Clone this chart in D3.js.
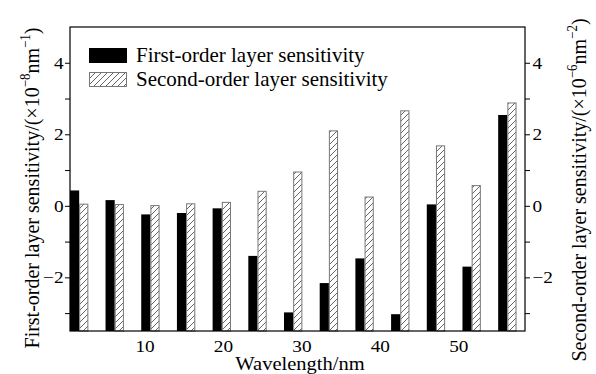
<!DOCTYPE html>
<html><head><meta charset="utf-8">
<script src="https://cdn.jsdelivr.net/npm/d3@7"></script>
<style>
body{margin:0;background:#fff}
svg{display:block}
text{font-family:"Liberation Serif","Times New Roman",serif;fill:#000}
</style>
</head><body>
<svg id="c" width="596" height="374"></svg>
<script>
// ---- data ----
const positions = [1.67, 6.2, 10.75, 15.3, 19.85, 24.4, 28.95, 33.5, 38.05, 42.6, 47.15, 51.7, 56.25];
const firstOrder = [0.43, 0.16, -0.24, -0.20, -0.07, -1.40, -2.98, -2.16, -1.47, -3.03, 0.04, -1.70, 2.54];
const secondOrder = [0.06, 0.05, 0.02, 0.07, 0.11, 0.42, 0.96, 2.11, 0.26, 2.67, 1.69, 0.58, 2.89];
const xTicks = [10, 20, 30, 40, 50];
const yMajor = [-2, 0, 2, 4];
const yMinor = [-3, -1, 1, 3];
const seriesNames = ["First-order layer sensitivity", "Second-order layer sensitivity"];

// ---- layout ----
const L = 70, R = 525, T = 27, B = 331;
const svg = d3.select("#c");
const x = d3.scaleLinear().domain([0.5, 58.5]).range([L, R]);
const y = d3.scaleLinear().domain([-3.5, 5]).range([B, T]);
const barW = 1.17;

const defs = svg.append("defs");
const pat = defs.append("pattern").attr("id", "hatch").attr("patternUnits", "userSpaceOnUse")
  .attr("width", 6).attr("height", 6);
pat.append("rect").attr("width", 6).attr("height", 6).attr("fill", "#fff");
pat.append("path").attr("d", "M-1,1 l2,-2 M0,6 l6,-6 M5,7 l2,-2")
  .attr("stroke", "#555").attr("stroke-width", 0.9);

// bars
const g = svg.append("g");
g.selectAll("rect.first").data(firstOrder).join("rect").attr("class", "first")
  .attr("x", (d, i) => x(positions[i] - barW))
  .attr("width", (d, i) => x(positions[i]) - x(positions[i] - barW))
  .attr("y", d => y(d)).attr("height", d => y(-3.5) - y(d))
  .attr("fill", "#000");
g.selectAll("rect.second").data(secondOrder).join("rect").attr("class", "second")
  .attr("x", (d, i) => x(positions[i]) + 0.5)
  .attr("width", (d, i) => x(positions[i] + barW) - x(positions[i]) - 1)
  .attr("y", d => y(d) + 0.5).attr("height", d => y(-3.5) - y(d) - 0.5)
  .attr("fill", "url(#hatch)").attr("stroke", "#777").attr("stroke-width", 1);

// frame
svg.append("rect").attr("x", L).attr("y", T).attr("width", R - L).attr("height", B - T)
  .attr("fill", "none").attr("stroke", "#000").attr("stroke-width", 1.2);

// axes
const fmt = d => d < 0 ? "\u2212" + Math.abs(d) : d;
const TS = 1.1; // horizontal stretch of tick labels
const leftAx = svg.append("g").attr("transform", `translate(${L},0)`)
  .call(d3.axisLeft(y).tickValues(yMajor).tickSize(5).tickPadding(1.5).tickFormat(fmt));
leftAx.append("g").call(d3.axisLeft(y).tickValues(yMinor).tickSize(5).tickFormat(""));
const rightAx = svg.append("g").attr("transform", `translate(${R},0)`)
  .call(d3.axisRight(y).tickValues(yMajor).tickSize(5).tickPadding(2.5).tickFormat(fmt));
rightAx.append("g").call(d3.axisRight(y).tickValues(yMinor).tickSize(5).tickFormat(""));
const botAx = svg.append("g").attr("transform", `translate(0,${B})`)
  .call(d3.axisBottom(x).tickValues(xTicks).tickSize(0).tickPadding(9));
[leftAx, rightAx, botAx].forEach(a => {
  a.selectAll(".domain").remove();
  a.selectAll("line").attr("stroke", "#000");
  a.selectAll("text").style("font-family", '"Liberation Serif",serif').style("font-size", "17.5px").attr("fill", "#000")
    .attr("transform", function() {
      const xa = +d3.select(this).attr("x") || 0;
      return `translate(${xa},0) scale(${TS},1) translate(${-xa},0)`;
    });
});

// axis titles
svg.append("text").attr("transform", "translate(300,369.5) scale(1.08,1)").attr("text-anchor", "middle")
  .style("font-size", "19px").text("Wavelength/nm");

function yTitle(cx, cy, main, exp1, exp2) {
  const t = svg.append("text").attr("transform", `translate(${cx},${cy}) rotate(-90) scale(1,1.1)`)
    .attr("text-anchor", "middle").style("font-size", "20px");
  t.append("tspan").text(main + "/(\u00d710");
  t.append("tspan").attr("dy", -8).style("font-size", "13px").text("\u2212" + exp1);
  t.append("tspan").attr("dy", 8).text("nm");
  t.append("tspan").attr("dy", -8).style("font-size", "13px").text("\u2212" + exp2);
  t.append("tspan").attr("dy", 8).text(")");
}
yTitle(39, 188, "First-order layer sensitivity", "8", "1");
yTitle(586, 190, "Second-order layer sensitivity", "6", "2");

// legend
const lg = svg.append("g");
const lx = 89, ly = [48, 72];
lg.append("rect").attr("x", lx).attr("y", ly[0]).attr("width", 38).attr("height", 15).attr("fill", "#000");
lg.append("rect").attr("x", lx + 0.5).attr("y", ly[1] + 0.5).attr("width", 37).attr("height", 14)
  .attr("fill", "url(#hatch)").attr("stroke", "#777");
seriesNames.forEach((s, i) => {
  lg.append("text").attr("transform", `translate(136,${ly[i] + 14}) scale(1.05,1)`)
    .style("font-size", "20px").text(s);
});
</script>
</body></html>
